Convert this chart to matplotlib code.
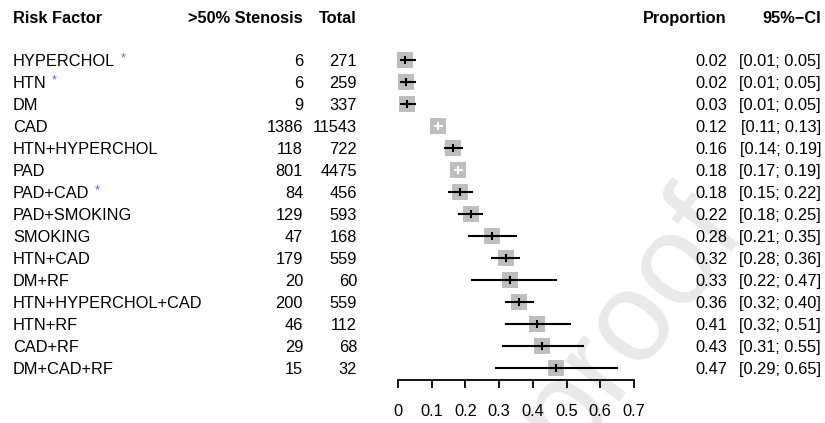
import matplotlib
matplotlib.use("Agg")
import matplotlib.pyplot as plt
from matplotlib.transforms import blended_transform_factory

plt.rcParams["font.family"] = ["Liberation Sans", "DejaVu Sans"]

# risk factor rows, top to bottom
factors = ["HYPERCHOL", "HTN", "DM", "CAD", "HTN+HYPERCHOL", "PAD", "PAD+CAD",
           "PAD+SMOKING", "SMOKING", "HTN+CAD", "DM+RF", "HTN+HYPERCHOL+CAD",
           "HTN+RF", "CAD+RF", "DM+CAD+RF"]
starred = [True, True, False, False, False, False, True,
           False, False, False, False, False, False, False, False]
stenosis = [6, 6, 9, 1386, 118, 801, 84, 129, 47, 179, 20, 200, 46, 29, 15]
total = [271, 259, 337, 11543, 722, 4475, 456, 593, 168, 559, 60, 559, 112, 68, 32]
proportion = [0.022, 0.023, 0.027, 0.120, 0.163, 0.179, 0.184, 0.218,
              0.280, 0.320, 0.333, 0.358, 0.411, 0.426, 0.469]
ci_low = [0.01, 0.01, 0.01, 0.11, 0.14, 0.17, 0.15, 0.18,
          0.21, 0.28, 0.22, 0.32, 0.32, 0.31, 0.29]
ci_high = [0.05, 0.05, 0.05, 0.13, 0.19, 0.19, 0.22, 0.25,
           0.35, 0.36, 0.47, 0.40, 0.51, 0.55, 0.65]
x_ticks = [0, 0.1, 0.2, 0.3, 0.4, 0.5, 0.6, 0.7]
x_tick_labels = ["0", "0.1", "0.2", "0.3", "0.4", "0.5", "0.6", "0.7"]

W, H = 825, 423
fig = plt.figure(figsize=(W / 100, H / 100), dpi=100)
ax = fig.add_axes([398 / W, 1 - 380 / H, 236 / W, 340 / H])
n = len(factors)
ax.set_xlim(0, 0.7)
ax.set_ylim(14.545, -0.909)

# watermark, behind everything
fig.text(630 / W, 1 - 322 / H, "proof", fontsize=92, color="#e9e9e9",
         rotation=53, ha="center", va="center", zorder=-5)

fs = 11.8
half_box = 7 / 337  # roughly half the square width in data units
for i in range(n):
    p = proportion[i]
    ax.plot(p, i, marker="s", markersize=12.2, color="#bebebe",
            markeredgewidth=0, clip_on=False, zorder=2)
    inside = ci_low[i] >= p - half_box and ci_high[i] <= p + half_box
    c = "white" if inside else "black"
    ax.plot([ci_low[i], ci_high[i]], [i, i], color=c, lw=1.5,
            clip_on=False, zorder=3)
    ax.plot([p, p], [i - 0.14, i + 0.14], color=c, lw=1.5,
            clip_on=False, zorder=3)

tr = blended_transform_factory(fig.transFigure, ax.transData)
off = 0.28  # baseline offset below row centre
for i in range(n):
    y = i + off
    t = ax.text(13 / W, y, factors[i], transform=tr, ha="left",
                va="baseline", fontsize=fs)
    ax.text(303 / W, y, str(stenosis[i]), transform=tr, ha="right",
            va="baseline", fontsize=fs)
    ax.text(357 / W, y, str(total[i]), transform=tr, ha="right",
            va="baseline", fontsize=fs)
    ax.text(727 / W, y, f"{proportion[i]:.2f}", transform=tr, ha="right",
            va="baseline", fontsize=fs)
    ax.text(821 / W, y, f"[{ci_low[i]:.2f}; {ci_high[i]:.2f}]", transform=tr,
            ha="right", va="baseline", fontsize=fs)
    if starred[i]:
        fig.canvas.draw()
        bb = t.get_window_extent()
        fig.text((bb.x1 + 5) / W, 1 - (60 + 22 * i - 2) / H, "*",
                 color="#5468ff", fontsize=9, ha="left", va="center")

hy = 1 - 23 / H
fig.text(13 / W, hy, "Risk Factor", fontsize=fs, fontweight="bold",
         va="baseline")
fig.text(303 / W, hy, ">50% Stenosis", fontsize=fs, fontweight="bold",
         ha="right", va="baseline")
fig.text(357 / W, hy, "Total", fontsize=fs, fontweight="bold",
         ha="right", va="baseline")
fig.text(727 / W, hy, "Proportion", fontsize=fs, fontweight="bold",
         ha="right", va="baseline")
fig.text(821 / W, hy, "95%\u2212CI", fontsize=fs, fontweight="bold",
         ha="right", va="baseline")

for s in ["top", "left", "right"]:
    ax.spines[s].set_visible(False)
ax.spines["bottom"].set_linewidth(1.3)
ax.patch.set_alpha(0)
ax.set_yticks([])
ax.set_xticks(x_ticks)
ax.set_xticklabels(x_tick_labels, fontsize=fs)
ax.tick_params(axis="x", length=6, width=1.3, pad=11)

fig.savefig("out.png", dpi=100)
